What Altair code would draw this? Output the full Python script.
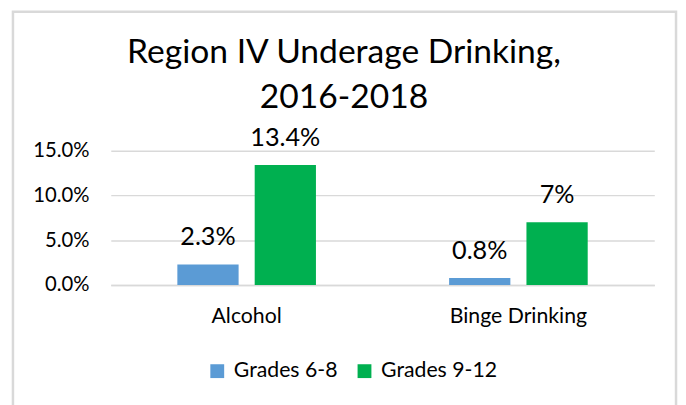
import altair as alt
import pandas as pd

categories = ["Alcohol", "Binge Drinking"]
grades = ["Grades 6-8", "Grades 9-12"]
grades_6_8 = [0.023, 0.008]
grades_9_12 = [0.134, 0.07]
labels_6_8 = ["2.3%", "0.8%"]
labels_9_12 = ["13.4%", "7%"]
y_ticks = [0, 0.05, 0.10, 0.15]
title_lines = ["Region IV Underage Drinking,", "2016-2018"]
colors = ["#5B9BD5", "#00B050"]

rows = []
for i, c in enumerate(categories):
    rows.append({"category": c, "grade": grades[0], "value": grades_6_8[i], "label": labels_6_8[i]})
    rows.append({"category": c, "grade": grades[1], "value": grades_9_12[i], "label": labels_9_12[i]})
df = pd.DataFrame(rows)

FONT = "Lato"

base = alt.Chart(df).encode(
    x=alt.X("category:N", sort=categories,
            scale=alt.Scale(paddingInner=0.49, paddingOuter=0.245),
            axis=alt.Axis(title=None, labelAngle=0, ticks=False, domain=True,
                          domainColor="#d9d9d9", domainWidth=1.5,
                          labelFontSize=21.5, labelFont=FONT, labelColor="#000000",
                          labelBaseline="alphabetic", labelPadding=38, grid=False)),
    xOffset=alt.XOffset("grade:N", sort=grades,
                        scale=alt.Scale(paddingInner=0.208, paddingOuter=0)),
    y=alt.Y("value:Q", scale=alt.Scale(domain=[0, 0.15], nice=False),
            axis=alt.Axis(title=None, format=".1%", values=y_ticks, ticks=False,
                          domain=False, gridColor="#d9d9d9", gridWidth=1.5,
                          labelFontSize=20.5, labelFont=FONT, labelColor="#000000",
                          labelPadding=22)),
)

bars = base.mark_bar().encode(
    color=alt.Color("grade:N", sort=grades,
                    scale=alt.Scale(domain=grades, range=colors),
                    legend=alt.Legend(title=None, orient="none", legendX=97, legendY=212,
                                      direction="horizontal", symbolType="square",
                                      symbolSize=196, symbolStrokeWidth=0,
                                      labelFontSize=21.5, labelFont=FONT,
                                      labelColor="#000000", columnPadding=16,
                                      labelOffset=6)),
)

text = base.mark_text(baseline="alphabetic", dy=-19.5, fontSize=25.5, font=FONT,
                      color="#000000").encode(text="label:N")

border = alt.Chart(pd.DataFrame({"a": [0]})).mark_rect(
    fill=None, stroke="#d9d9d9", strokeWidth=2.5
).encode(
    x=alt.value(-99), x2=alt.value(572), y=alt.value(-140.5), y2=alt.value(400)
)

one = pd.DataFrame({"a": [0]})
title1 = alt.Chart(one).mark_text(
    text=title_lines[0], fontSize=34, font=FONT, color="#000000",
    align="center", baseline="alphabetic"
).encode(x=alt.value(236), y=alt.value(-89))
title2 = alt.Chart(one).mark_text(
    text=title_lines[1], fontSize=34, font=FONT, color="#000000",
    align="center", baseline="alphabetic"
).encode(x=alt.value(236), y=alt.value(-43.5))

chart = alt.layer(border, bars, text, title1, title2).properties(
    width=550, height=136,
    autosize=alt.AutoSizeParams(type="none"),
    padding={"left": 104, "top": 142, "right": 24, "bottom": 119},
).configure_view(stroke=None)

chart.save("out.html", embed_options={"renderer": "svg", "actions": False})
